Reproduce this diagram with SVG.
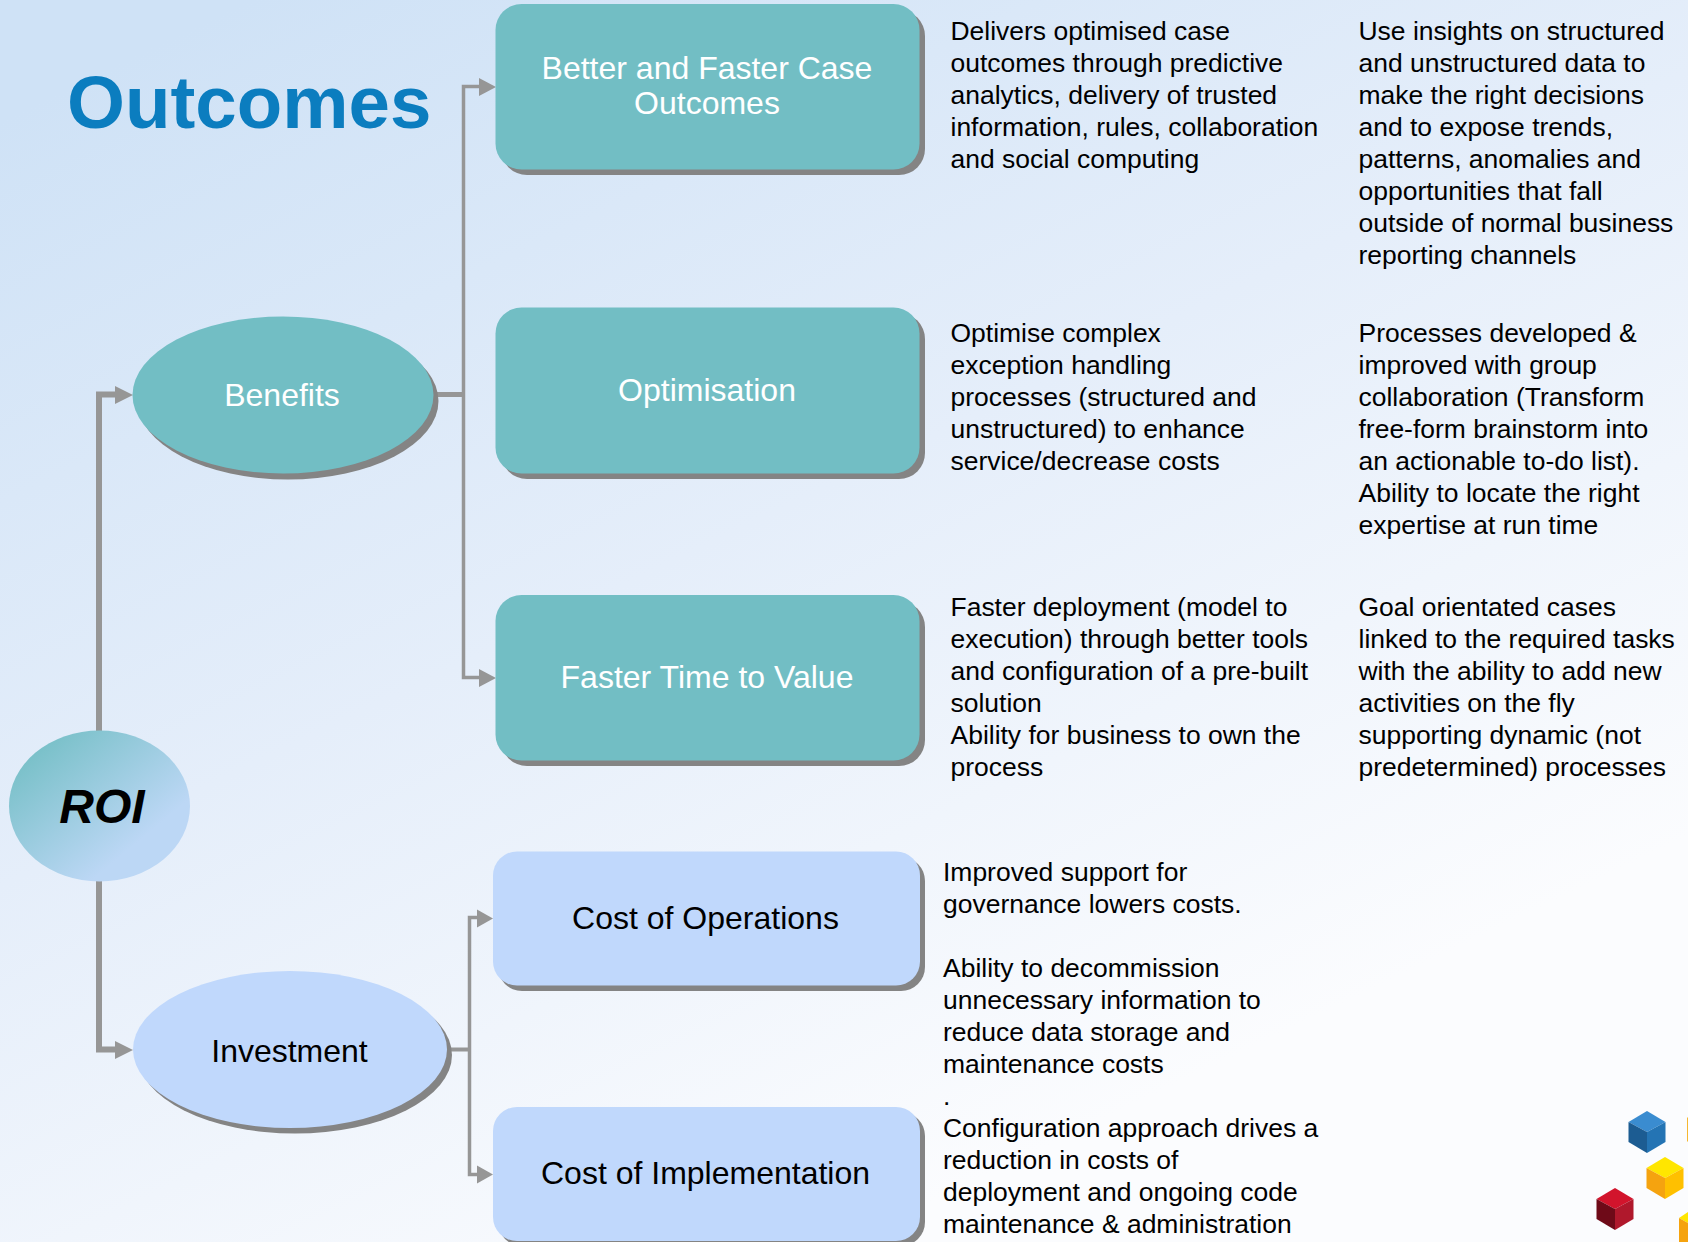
<svg xmlns="http://www.w3.org/2000/svg" width="1688" height="1242" viewBox="0 0 1688 1242">
<style>
text{font-family:"Liberation Sans",Arial,sans-serif}
.body{font-size:26.47px;fill:#000}
.lbl{font-size:32px;text-anchor:middle}
.w{fill:#fff}.k{fill:#000}
.teal{fill:#72bec4}.blue{fill:#c0d8fc}.sh{fill:#848484}
.ln{fill:none;stroke:#969696;stroke-linejoin:miter}
.ah{fill:#969696}
</style>
<defs>
<linearGradient id="bg" gradientUnits="userSpaceOnUse" x1="250" y1="0" x2="850" y2="1242">
<stop offset="0" stop-color="#cfe2f6"/><stop offset="0.5" stop-color="#e5eefa"/><stop offset="1" stop-color="#fbfcfe"/>
</linearGradient>
<linearGradient id="roi" x1="0.05" y1="0.1" x2="0.7" y2="0.75">
<stop offset="0" stop-color="#72bec4"/><stop offset="1" stop-color="#bcd7f5"/>
</linearGradient>
</defs>
<rect width="1688" height="1242" fill="url(#bg)"/>
<g id="connectors">
<path class="ln" stroke-width="6" d="M99 731V394.500H116"/>
<path class="ln" stroke-width="6" d="M99 880V1049.500H116"/>
<path class="ah" d="M115 386L133 395L115 404Z"/>
<path class="ah" d="M115 1041L133 1050L115 1059Z"/>
<path class="ln" stroke-width="5" d="M433 394.500H463"/>
<path class="ln" stroke-width="3.5" d="M480 86.500H463.500V677.500H480"/>
<path class="ah" d="M479 78L496 87L479 96Z"/>
<path class="ah" d="M479 669L496 678L479 687Z"/>
<path class="ln" stroke-width="4" d="M447 1049.500H470"/>
<path class="ln" stroke-width="3.500" d="M478 917.500H469.500V1174.500H478"/>
<path class="ah" d="M477 909.500L493 918.500L477 927.500Z"/>
<path class="ah" d="M477 1165.500L493 1174.500L477 1183.500Z"/>
</g>
<g id="title"><text x="67" y="128" font-size="74.5" font-weight="700" fill="#0b7dbf">Outcomes</text></g>
<g id="roi-node">
<ellipse cx="99.500" cy="806" rx="90.500" ry="75.500" fill="url(#roi)"/>
<text x="102" y="823" font-size="48" font-weight="700" font-style="italic" text-anchor="middle" class="k">ROI</text>
</g>
<g id="benefits">
<ellipse class="sh" cx="288" cy="401" rx="150.500" ry="78.500"/>
<ellipse class="teal" cx="283" cy="395" rx="150.500" ry="78.500"/>
<text class="lbl w" x="282" y="406">Benefits</text>
</g>
<g id="investment">
<ellipse class="sh" cx="295" cy="1055" rx="157" ry="78.500"/>
<ellipse class="blue" cx="290" cy="1049.500" rx="157" ry="78.500"/>
<text class="lbl k" x="289.500" y="1062">Investment</text>
</g>
<g id="better-faster">
<rect class="sh" x="501" y="10" width="424" height="165" rx="26"/>
<rect class="teal" x="495.500" y="4" width="424" height="165.500" rx="26"/>
<text class="lbl w" x="707" y="79">Better and Faster Case</text>
<text class="lbl w" x="707" y="114">Outcomes</text>
</g>
<g id="optimisation">
<rect class="sh" x="501" y="313" width="424" height="166" rx="26"/>
<rect class="teal" x="495.500" y="307.500" width="424" height="166" rx="26"/>
<text class="lbl w" x="707" y="400.500">Optimisation</text>
</g>
<g id="faster-time">
<rect class="sh" x="501" y="601" width="424" height="165" rx="26"/>
<rect class="teal" x="495.500" y="595" width="424" height="165.500" rx="26"/>
<text class="lbl w" x="707" y="687.500">Faster Time to Value</text>
</g>
<g id="cost-operations">
<rect class="sh" x="498" y="857" width="427" height="134" rx="24"/>
<rect class="blue" x="493" y="851.500" width="427" height="134" rx="24"/>
<text class="lbl k" x="705.500" y="929">Cost of Operations</text>
</g>
<g id="cost-implementation">
<rect class="sh" x="498" y="1112" width="427" height="134" rx="24"/>
<rect class="blue" x="493" y="1107" width="427" height="134" rx="24"/>
<text class="lbl k" x="705.500" y="1184">Cost of Implementation</text>
</g>
<g id="descriptions">
<text class="body"><tspan x="950.500" y="40">Delivers optimised case</tspan><tspan x="950.500" dy="32">outcomes through predictive</tspan><tspan x="950.500" dy="32">analytics, delivery of trusted</tspan><tspan x="950.500" dy="32">information, rules, collaboration</tspan><tspan x="950.500" dy="32">and social computing</tspan></text>
<text class="body"><tspan x="1358.500" y="40">Use insights on structured</tspan><tspan x="1358.500" dy="32">and unstructured data to</tspan><tspan x="1358.500" dy="32">make the right decisions</tspan><tspan x="1358.500" dy="32">and to expose trends,</tspan><tspan x="1358.500" dy="32">patterns, anomalies and</tspan><tspan x="1358.500" dy="32">opportunities that fall</tspan><tspan x="1358.500" dy="32">outside of normal business</tspan><tspan x="1358.500" dy="32">reporting channels</tspan></text>
<text class="body"><tspan x="950.500" y="342">Optimise complex</tspan><tspan x="950.500" dy="32">exception handling</tspan><tspan x="950.500" dy="32">processes (structured and</tspan><tspan x="950.500" dy="32">unstructured) to enhance</tspan><tspan x="950.500" dy="32">service/decrease costs</tspan></text>
<text class="body"><tspan x="1358.500" y="342">Processes developed &amp;</tspan><tspan x="1358.500" dy="32">improved with group</tspan><tspan x="1358.500" dy="32">collaboration (Transform</tspan><tspan x="1358.500" dy="32">free-form brainstorm into</tspan><tspan x="1358.500" dy="32">an actionable to-do list).</tspan><tspan x="1358.500" dy="32">Ability to locate the right</tspan><tspan x="1358.500" dy="32">expertise at run time</tspan></text>
<text class="body"><tspan x="950.500" y="616">Faster deployment (model to</tspan><tspan x="950.500" dy="32">execution) through better tools</tspan><tspan x="950.500" dy="32">and configuration of a pre-built</tspan><tspan x="950.500" dy="32">solution</tspan><tspan x="950.500" dy="32">Ability for business to own the</tspan><tspan x="950.500" dy="32">process</tspan></text>
<text class="body"><tspan x="1358.500" y="616">Goal orientated cases</tspan><tspan x="1358.500" dy="32">linked to the required tasks</tspan><tspan x="1358.500" dy="32">with the ability to add new</tspan><tspan x="1358.500" dy="32">activities on the fly</tspan><tspan x="1358.500" dy="32">supporting dynamic (not</tspan><tspan x="1358.500" dy="32">predetermined) processes</tspan></text>
<text class="body"><tspan x="943" y="881">Improved support for</tspan><tspan x="943" dy="32">governance lowers costs.</tspan><tspan x="943" dy="64">Ability to decommission</tspan><tspan x="943" dy="32">unnecessary information to</tspan><tspan x="943" dy="32">reduce data storage and</tspan><tspan x="943" dy="32">maintenance costs</tspan><tspan x="943" dy="32">.</tspan><tspan x="943" dy="32">Configuration approach drives a</tspan><tspan x="943" dy="32">reduction in costs of</tspan><tspan x="943" dy="32">deployment and ongoing code</tspan><tspan x="943" dy="32">maintenance &amp; administration</tspan></text>
</g>
<g id="cubes">
<g transform="translate(1647 1132)"><path fill="#3a8cd0" d="M0-21L18.500-10L0 0L-18.500-10Z"/><path fill="#1c5c92" d="M-18.500-10L0 0V21L-18.500 10Z"/><path fill="#2474b4" d="M18.500-10L0 0V21L18.500 10Z"/></g>
<g transform="translate(1665 1178)"><path fill="#ffe600" d="M0-21L18.500-10L0 0L-18.500-10Z"/><path fill="#f5a30f" d="M-18.500-10L0 0V21L-18.500 10Z"/><path fill="#ffc000" d="M18.500-10L0 0V21L18.500 10Z"/></g>
<g transform="translate(1615 1209)"><path fill="#d2142c" d="M0-21L18.500-10L0 0L-18.500-10Z"/><path fill="#6e0a18" d="M-18.500-10L0 0V21L-18.500 10Z"/><path fill="#b0182c" d="M18.500-10L0 0V21L18.500 10Z"/></g>
<path fill="#f5b731" d="M1688 1117L1687 1118V1141L1688 1142Z"/>
<path fill="#ffe600" d="M1688 1212L1679 1218L1688 1223Z"/>
<path fill="#f5a30f" d="M1679 1218L1688 1223V1242H1679Z"/>
</g>
</svg>
